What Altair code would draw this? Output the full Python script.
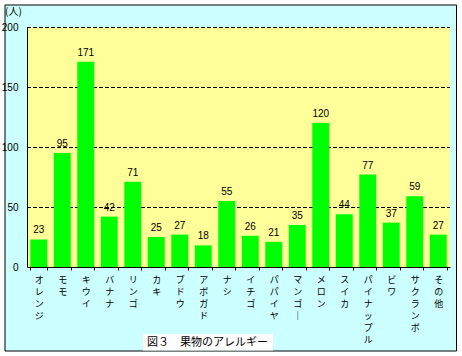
import altair as alt
import pandas as pd

categories = ["オレンジ", "モモ", "キウイ", "バナナ", "リンゴ", "カキ", "ブドウ", "アボガド", "ナシ",
              "イチゴ", "パパイヤ", "マンゴー", "メロン", "スイカ", "パイナップル", "ビワ", "サクランボ", "その他"]
counts = [23, 95, 171, 42, 71, 25, 27, 18, 55, 26, 21, 35, 120, 44, 77, 37, 59, 27]
grid_values = [50, 100, 150, 200]
y_ticks = [0, 50, 100, 150, 200]
unit_label = "(人)"
caption = "図３　果物のアレルギー"

W, H = 423, 240
JP = "Noto Sans CJK JP"
NUM = "Liberation Sans Narrow, Liberation Sans, sans-serif"

df = pd.DataFrame({"fruit": categories, "count": counts})
grid_df = pd.DataFrame({"count": grid_values})
one = pd.DataFrame({"k": [0]})

x_enc = alt.X(
    "fruit:N", sort=categories,
    scale=alt.Scale(paddingInner=0.28, paddingOuter=0.14),
    axis=alt.Axis(title=None, labelAngle=0,
                  labelExpr="split(replace(datum.label, 'ー', '｜'), '')",
                  labelBaseline="top", labelLineHeight=12, labelPadding=5,
                  labelFont=JP, labelFontSize=9, labelColor="black",
                  labelOverlap=False, tickBand="extent", tickSize=3,
                  tickColor="black", domainColor="black", zindex=1),
)
y_axis = alt.Axis(values=y_ticks, title=None, grid=False, ticks=False, labelPadding=9,
                  labelFont=NUM, labelFontSize=10, labelColor="black",
                  domainColor="black", zindex=1)
y_enc = alt.Y("count:Q", scale=alt.Scale(domain=[0, 200], nice=False), axis=y_axis)

bg = alt.Chart(one).mark_rect(fill="#ccffff", stroke="black", strokeWidth=1).encode(
    x=alt.value(-22), x2=alt.value(429.5), y=alt.value(-22), y2=alt.value(324))
plot_bg = alt.Chart(one).mark_rect(fill="#ffff99").encode(
    x=alt.value(0), x2=alt.value(W), y=alt.value(0), y2=alt.value(H))
grid = alt.Chart(grid_df).mark_rule(color="black", strokeDash=[4, 2], strokeWidth=1, yOffset=0.5).encode(
    y=y_enc, x=alt.value(0), x2=alt.value(W))
bars = alt.Chart(df).mark_bar(color="#00ff00").encode(x=x_enc, y=y_enc)
labels = alt.Chart(df).mark_text(dy=-4, baseline="bottom", font=NUM, fontSize=10, color="black").encode(
    x=x_enc, y=y_enc, text="count:Q")
unit = alt.Chart(one).mark_text(align="left", baseline="middle", font=JP, fontSize=10, color="black",
                                text=unit_label).encode(x=alt.value(-22), y=alt.value(-15))
cap_box = alt.Chart(one).mark_rect(fill="white").encode(
    x=alt.value(116), x2=alt.value(246), y=alt.value(307), y2=alt.value(323.5))
cap_text = alt.Chart(one).mark_text(align="left", baseline="middle", font=JP, fontSize=11, color="black",
                                    text=caption).encode(x=alt.value(120), y=alt.value(316))

chart = alt.layer(bg, plot_bg, grid, bars, labels, unit, cap_box, cap_text).properties(
    width=W, height=H,
    autosize=alt.AutoSizeParams(type="none"),
    padding={"left": 27, "top": 27, "right": 12, "bottom": 89},
).configure_view(stroke=None).configure(background="white")

chart.save("out.html", embed_options={"renderer": "svg", "actions": False})
